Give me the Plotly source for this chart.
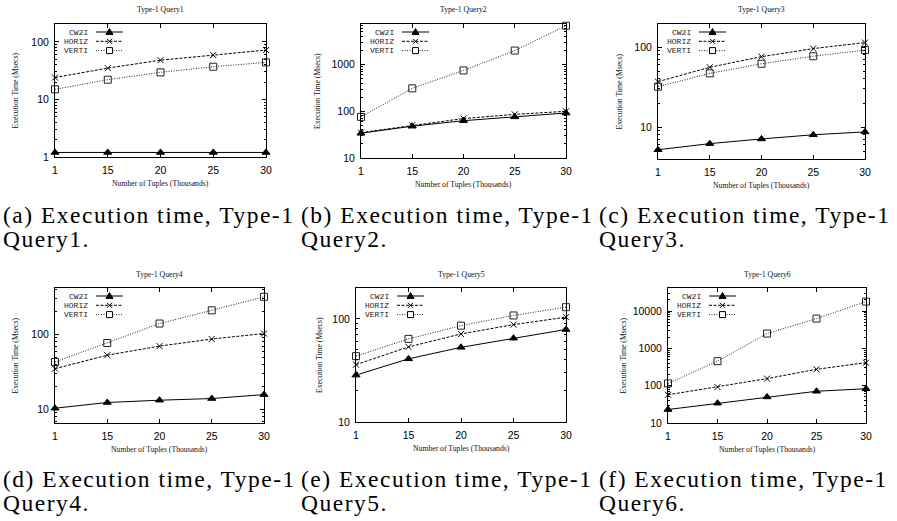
import plotly.graph_objects as go

W, H = 897, 521

# ---------------- data ----------------
tuples = ["1", "15", "20", "25", "30"]
series_names = ["CW2I", "HORIZ", "VERTI"]

q1_cw2i = [1.2, 1.2, 1.2, 1.2, 1.2]
q1_horiz = [24, 35, 48, 59, 72]
q1_verti = [15, 22, 29.5, 37, 44]

q2_cw2i = [34, 48, 63, 76, 92]
q2_horiz = [35, 50, 70, 86, 100]
q2_verti = [76, 310, 750, 2000, 6800]

q3_cw2i = [5.2, 6.2, 7.1, 8.0, 8.7]
q3_horiz = [37, 56, 76, 96, 114]
q3_verti = [32, 47, 62, 77, 92]

q4_cw2i = [10.4, 12.4, 13.3, 14.0, 15.8]
q4_horiz = [35, 53, 70, 87, 103]
q4_verti = [43, 77, 140, 210, 318]

q5_cw2i = [28.5, 41, 53, 65, 79]
q5_horiz = [36, 53.5, 71.5, 88, 104]
q5_verti = [43.5, 64, 86, 108, 130]

q6_cw2i = [23, 34, 50, 71, 83]
q6_horiz = [57, 92, 155, 275, 415]
q6_verti = [115, 455, 2500, 6300, 18000]

y_tick_vals = [1, 10, 100, 1000, 10000]
y_tick_text = ["1", "10", "100", "1000", "10000"]

panel_titles = ["Type-1 Query1", "Type-1 Query2", "Type-1 Query3",
                "Type-1 Query4", "Type-1 Query5", "Type-1 Query6"]
caption_line1 = ["(a) Execution time, Type-1", "(b) Execution time, Type-1",
                 "(c) Execution time, Type-1", "(d) Execution time, Type-1",
                 "(e) Execution time, Type-1", "(f) Execution time, Type-1"]
caption_line2 = ["Query1.", "Query2.", "Query3.", "Query4.", "Query5.", "Query6."]
x_title = "Number of Tuples (Thousands)"
y_title = "Execution Time (Msecs)"

panel_data = [
    [q1_cw2i, q1_horiz, q1_verti],
    [q2_cw2i, q2_horiz, q2_verti],
    [q3_cw2i, q3_horiz, q3_verti],
    [q4_cw2i, q4_horiz, q4_verti],
    [q5_cw2i, q5_horiz, q5_verti],
    [q6_cw2i, q6_horiz, q6_verti],
]

# ---------------- layout / style ----------------
# plot boxes in pixels: (left, top, right, bottom)
boxes = [(55, 24, 266, 157), (361, 24, 566, 158), (658, 24, 865, 159),
         (55, 288, 264, 423), (356, 288, 566, 422), (668, 288, 866, 423)]
y_ranges = [(0, 2.31), (1, 3.87), (0.60, 2.29),
            (0.82, 2.62), (1, 2.30), (1, 4.62)]
ytitle_px = [15, 318, 619, 15, 319, 623]
caption_x = [1, 299, 597, 1, 299, 597]

styles = [
    dict(dash="solid", symbol="triangle-up", size=7, color="black"),
    dict(dash="3px,1.5px", symbol="x-thin", size=6, color="black"),
    dict(dash="1px,1.5px", symbol="square-open", size=7, color="#222"),
]

minor_vals = [m * 10 ** k for k in range(0, 6) for m in range(2, 10)]

def px(x):
    return x / W

def py(y):
    return 1 - y / H

fig = go.Figure()
annotations = []
shapes = []
layout = {}

tick_font = dict(family="Liberation Sans, Arial, sans-serif", size=10.5, color="black")
serif_small = dict(family="Liberation Serif, Times New Roman, serif", size=7.7, color="#111")
mono_small = dict(family="Liberation Mono, Courier New, monospace", size=8, color="#222")
caption_font = dict(family="Liberation Serif, Times New Roman, serif", size=23.5, color="black")

def spaced(s):
    return f'<span style="letter-spacing:1.5px">{s}</span>'

for i, (box, data) in enumerate(zip(boxes, panel_data)):
    n = i + 1
    xa = "x" if n == 1 else f"x{n}"
    ya = "y" if n == 1 else f"y{n}"
    l, t, r, b = box
    for j, (name, vals) in enumerate(zip(series_names, data)):
        st = styles[j]
        fig.add_trace(go.Scatter(
            x=tuples, y=vals, name=name, mode="lines+markers",
            xaxis=xa, yaxis=ya, showlegend=False, cliponaxis=False,
            line=dict(color=st["color"], width=1, dash=st["dash"]),
            marker=dict(symbol=st["symbol"], size=st["size"], color=st["color"],
                        line=dict(color=st["color"], width=1)),
        ))
    layout["xaxis" if n == 1 else f"xaxis{n}"] = dict(
        domain=[px(l), px(r)], anchor=ya, type="category", range=[0, 4],
        showline=True, linecolor="black", linewidth=1, mirror="ticks",
        ticks="inside", ticklen=4, tickcolor="black", tickwidth=1,
        showgrid=False, zeroline=False, tickfont=tick_font, automargin=False,
        ticklabelstandoff=3, fixedrange=True,
    )
    layout["yaxis" if n == 1 else f"yaxis{n}"] = dict(
        domain=[py(b), py(t)], anchor=xa, type="log", range=list(y_ranges[i]),
        showline=True, linecolor="black", linewidth=1, mirror="ticks",
        ticks="inside", ticklen=4, tickcolor="black", tickwidth=1,
        tickmode="array", tickvals=y_tick_vals, ticktext=y_tick_text,
        minor=dict(ticks="inside", ticklen=2, tickcolor="black", tickwidth=1,
                   tickmode="array", tickvals=minor_vals, showgrid=False),
        showgrid=False, zeroline=False, tickfont=tick_font, automargin=False,
        ticklabelstandoff=3, fixedrange=True,
    )
    cx = (l + r) / 2
    cy = (t + b) / 2
    annotations.append(dict(text=panel_titles[i], x=px(cx), y=py(t - 14), xref="paper", yref="paper",
                            showarrow=False, xanchor="center", yanchor="middle", font=serif_small))
    annotations.append(dict(text=x_title, x=px(cx), y=py(b + 26), xref="paper", yref="paper",
                            showarrow=False, xanchor="center", yanchor="middle", font=serif_small))
    annotations.append(dict(text=y_title, x=px(ytitle_px[i]), y=py(cy), xref="paper", yref="paper",
                            showarrow=False, xanchor="center", yanchor="middle", textangle=-90,
                            font=serif_small))
    # captions
    row_off = 0 if i < 3 else 264
    annotations.append(dict(text=spaced(caption_line1[i]), x=px(caption_x[i]), y=py(215 + row_off),
                            xref="paper", yref="paper", showarrow=False,
                            xanchor="left", yanchor="middle", font=caption_font))
    annotations.append(dict(text=spaced(caption_line2[i]), x=px(caption_x[i]), y=py(239 + row_off),
                            xref="paper", yref="paper", showarrow=False,
                            xanchor="left", yanchor="middle", font=caption_font))
    # key (gnuplot style: label, then sample)
    for j, name in enumerate(series_names):
        st = styles[j]
        ry = t + 8 + 9.3 * j
        annotations.append(dict(text=name, x=px(l + 35), y=py(ry), xref="paper", yref="paper",
                                showarrow=False, xanchor="right", yanchor="middle", font=mono_small))
        shapes.append(dict(type="line", xref="paper", yref="paper",
                           x0=px(l + 41), x1=px(l + 68), y0=py(ry), y1=py(ry),
                           line=dict(color=st["color"], width=1, dash=st["dash"])))
        mx = l + 54.5
        if j == 0:
            path = (f"M {px(mx - 3.5)},{py(ry + 2.5)} L {px(mx + 3.5)},{py(ry + 2.5)} "
                    f"L {px(mx)},{py(ry - 3.5)} Z")
            shapes.append(dict(type="path", xref="paper", yref="paper", path=path,
                               fillcolor="black", line=dict(color="black", width=1)))
        elif j == 1:
            for s in (1, -1):
                shapes.append(dict(type="line", xref="paper", yref="paper",
                                   x0=px(mx - 2.5), x1=px(mx + 2.5),
                                   y0=py(ry - 2.5 * s), y1=py(ry + 2.5 * s),
                                   line=dict(color="black", width=1)))
        else:
            shapes.append(dict(type="rect", xref="paper", yref="paper",
                               x0=px(mx - 3), x1=px(mx + 3), y0=py(ry - 3), y1=py(ry + 3),
                               fillcolor="white", line=dict(color="black", width=1)))

fig.update_layout(
    template="none",
    width=W, height=H, margin=dict(l=0, r=0, t=0, b=0, autoexpand=False),
    paper_bgcolor="white", plot_bgcolor="white",
    showlegend=False, annotations=annotations, shapes=shapes,
    hovermode=False,
    **layout,
)

fig.write_html("out.html", config={"displayModeBar": False, "staticPlot": True},
               post_script="document.body.style.margin='0px';")
